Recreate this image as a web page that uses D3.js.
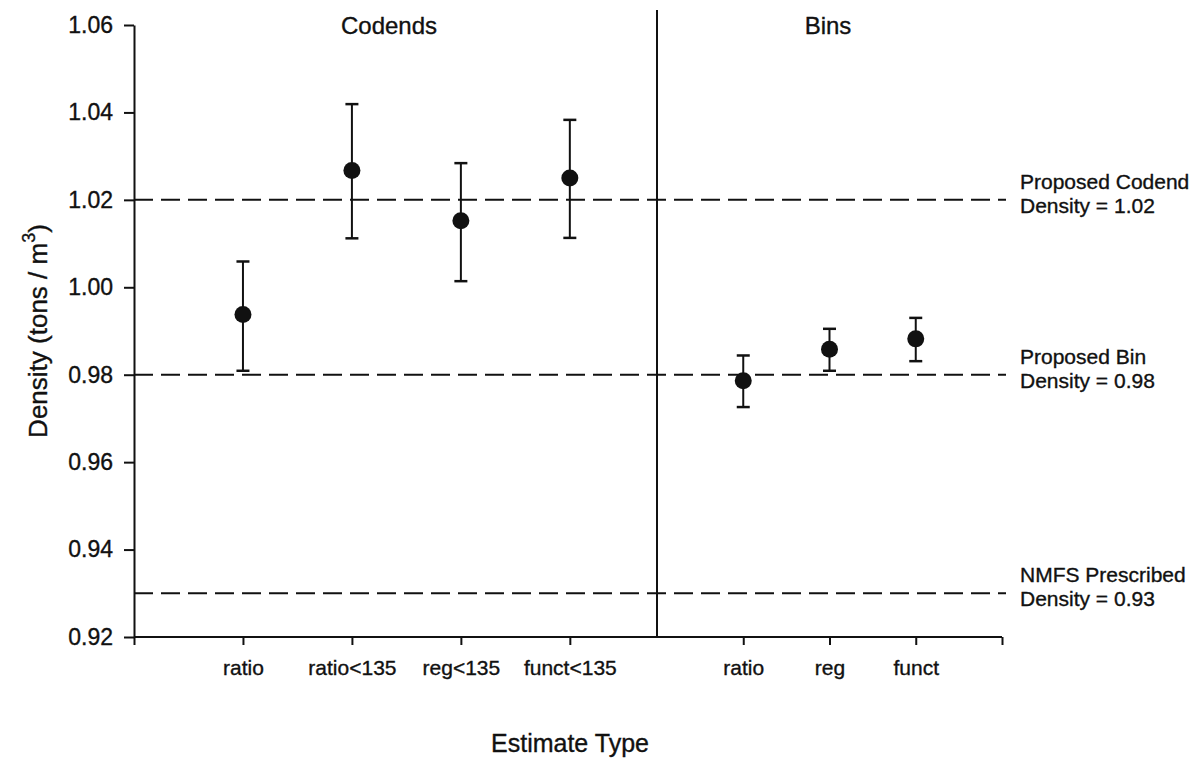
<!DOCTYPE html>
<html><head><meta charset="utf-8">
<script src="https://cdn.jsdelivr.net/npm/d3@7"></script>
<style>
body{margin:0;background:#fff}
text{font-family:"Liberation Sans",Arial,Helvetica,sans-serif;fill:#111;stroke:#111;stroke-width:0.35px}
</style>
</head><body><svg id="chart" width="1201" height="760"></svg>
<script>
// ---- data ----
const yTicks = [0.92, 0.94, 0.96, 0.98, 1.00, 1.02, 1.04, 1.06];
const codendCats = ["ratio", "ratio<135", "reg<135", "funct<135"];
const codendMean = [0.9938, 1.0267, 1.0152, 1.0250];
const codendLower = [0.9809, 1.0112, 1.0014, 1.0113];
const codendUpper = [1.0059, 1.0419, 1.0284, 1.0383];
const binCats = ["ratio", "reg", "funct"];
const binMean = [0.9786, 0.9858, 0.9882];
const binLower = [0.9726, 0.9809, 0.9831];
const binUpper = [0.9844, 0.9905, 0.9930];
const refValues = [1.02, 0.98, 0.93];
const refLine1 = ["Proposed Codend", "Proposed Bin", "NMFS Prescribed"];
const refLine2 = ["Density = 1.02", "Density = 0.98", "Density = 0.93"];
const panelTitles = ["Codends", "Bins"];
const xTitle = "Estimate Type";

// ---- scales ----
const svg = d3.select("#chart");
const y = d3.scaleLinear().domain([0.92, 1.06]).range([637, 25]);
const xL = d3.scaleLinear().domain([0, 4.8]).range([134, 657]);
const xR = d3.scaleLinear().domain([0, 4]).range([657, 1002]);
const ink = "#111";

// ---- reference dashed lines ----
refValues.forEach((v, i) => {
  svg.append("line")
    .attr("x1", xL(0)).attr("x2", 1006)
    .attr("y1", y(v)).attr("y2", y(v))
    .attr("stroke", ink).attr("stroke-width", 2)
    .attr("stroke-dasharray", "19,8");
  svg.append("text").attr("x", 1020).attr("y", y(v) - 11)
    .attr("font-size", 21).text(refLine1[i]);
  svg.append("text").attr("x", 1020).attr("y", y(v) + 13)
    .attr("font-size", 21).text(refLine2[i]);
});

// ---- divider ----
svg.append("line").attr("x1", xR(0)).attr("x2", xR(0))
  .attr("y1", 10).attr("y2", y(0.92))
  .attr("stroke", ink).attr("stroke-width", 2);

// ---- y axis ----
const yAxis = svg.append("g").attr("transform", `translate(${xL(0)},0)`)
  .call(d3.axisLeft(y).tickValues(yTicks).tickFormat(d3.format(".2f"))
    .tickSize(10).tickPadding(11).tickSizeOuter(0));
yAxis.selectAll("text").attr("font-size", 23);

// ---- x axis ----
const xAxL = svg.append("g").attr("transform", `translate(0,${y(0.92)})`)
  .call(d3.axisBottom(xL).tickValues([0, 1, 2, 3, 4])
    .tickFormat(d => d === 0 ? "" : codendCats[d - 1])
    .tickSize(8).tickPadding(15).tickSizeOuter(0));
const xAxR = svg.append("g").attr("transform", `translate(0,${y(0.92)})`)
  .call(d3.axisBottom(xR).tickValues([1, 2, 3, 4])
    .tickFormat(d => binCats[d - 1] || "")
    .tickSize(8).tickPadding(15).tickSizeOuter(0));
[xAxL, xAxR].forEach(g => { g.select(".domain").remove(); g.selectAll("text").attr("font-size", 21); });
svg.append("line").attr("x1", xL(0)).attr("x2", xR(4))
  .attr("y1", y(0.92)).attr("y2", y(0.92))
  .attr("stroke", ink).attr("stroke-width", 2);

svg.selectAll(".domain, .tick line").attr("stroke", ink).attr("stroke-width", 2);

// ---- error bars + points ----
function drawSeries(xs, means, lows, highs) {
  const g = svg.append("g");
  means.forEach((m, i) => {
    const cx = xs(i + 1);
    g.append("line").attr("x1", cx).attr("x2", cx)
      .attr("y1", y(lows[i])).attr("y2", y(highs[i]))
      .attr("stroke", ink).attr("stroke-width", 2);
    [lows[i], highs[i]].forEach(v => {
      g.append("line").attr("x1", cx - 6.5).attr("x2", cx + 6.5)
        .attr("y1", y(v)).attr("y2", y(v))
        .attr("stroke", ink).attr("stroke-width", 2.5);
    });
    g.append("circle").attr("cx", cx).attr("cy", y(m)).attr("r", 8.5).attr("fill", ink);
  });
}
drawSeries(xL, codendMean, codendLower, codendUpper);
drawSeries(xR, binMean, binLower, binUpper);

// ---- titles ----
svg.append("text").attr("x", 389).attr("y", 34).attr("text-anchor", "middle")
  .attr("font-size", 24).text(panelTitles[0]);
svg.append("text").attr("x", 828).attr("y", 34).attr("text-anchor", "middle")
  .attr("font-size", 24).text(panelTitles[1]);
svg.append("text").attr("x", 570).attr("y", 752).attr("text-anchor", "middle")
  .attr("font-size", 25).text(xTitle);

const yl = svg.append("text").attr("transform", "translate(47,331) rotate(-90)")
  .attr("text-anchor", "middle").attr("font-size", 26);
yl.append("tspan").text("Density (tons / m");
yl.append("tspan").attr("font-size", 18).attr("dy", -12).text("3");
yl.append("tspan").attr("dy", 12).text(")");
</script>
</body></html>
